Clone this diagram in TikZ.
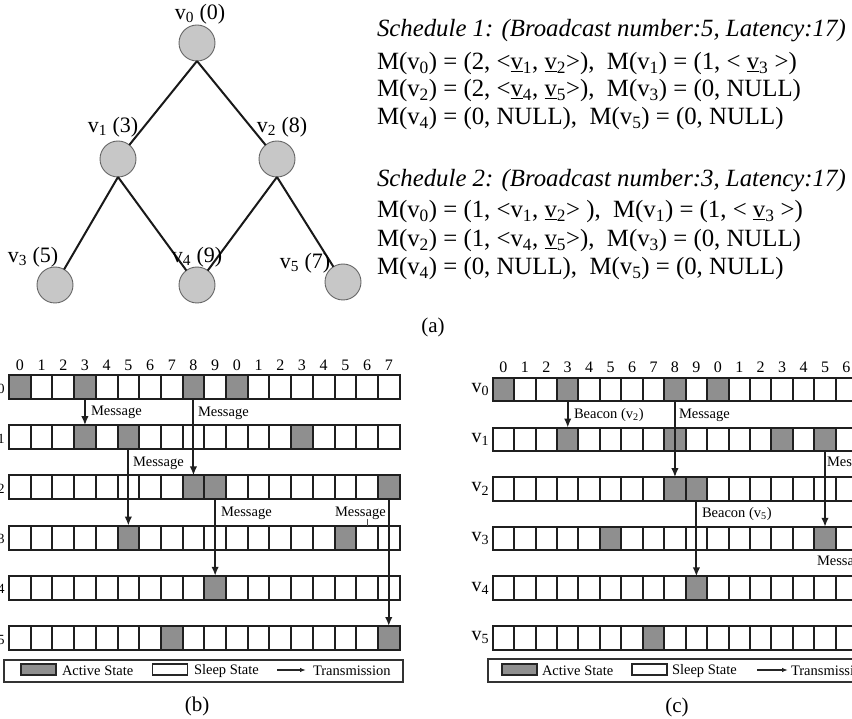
\documentclass[tikz,border=0pt]{standalone}
\usepackage{fontspec}
\setmainfont{Liberation Serif}
\usetikzlibrary{arrows.meta}
\newcommand{\vv}[1]{v\textsubscript{#1}}
\newcommand{\uv}[1]{\underline{v}\textsubscript{#1}}
\begin{document}
\begin{tikzpicture}[x=1pt,y=-1pt,
  every node/.style={inner sep=0pt,outer sep=0pt},
  tnode/.style={circle,minimum size=36pt,fill=black!22,draw=black!60,line width=0.9pt},
  edge/.style={line width=2pt,draw=black!90},
  tlbl/.style={font=\fontsize{22}{24}\selectfont},
  sched/.style={anchor=base west,font=\fontsize{24.8}{28}\selectfont},
  bcell/.style={draw=black!88,line width=2pt,minimum width=21.7pt,minimum height=24pt},
  ccell/.style={draw=black!88,line width=2pt,minimum width=21.44pt,minimum height=23.5pt},
  act/.style={fill=black!44},
  numlbl/.style={font=\fontsize{16}{17}\selectfont},
  rowlbl/.style={font=\fontsize{20}{22}\selectfont},
  msg/.style={anchor=west,font=\fontsize{14.5}{16}\selectfont},
  leg/.style={anchor=west,font=\fontsize{14.5}{16}\selectfont},
  legbox/.style={draw=black!80,line width=1.2pt},
  legsw/.style={draw=black!85,line width=1.2pt,minimum width=35pt,minimum height=11pt},
  arr/.style={-{Latex[length=9pt,width=7.5pt]},line width=2pt,draw=black!88},
  legarr/.style={-{Latex[length=6pt,width=4.5pt]},line width=1.2pt,draw=black!85},
  captxt/.style={font=\fontsize{21}{23}\selectfont}]
\useasboundingbox (0,0) rectangle (852,719);
\clip (0,0) rectangle (852,719);

% ---------- tree ----------
\node[tnode] (t0) at (197,43) {};
\node[tnode] (t1) at (118,159) {};
\node[tnode] (t2) at (277,159) {};
\node[tnode] (t3) at (55,285) {};
\node[tnode] (t4) at (197,285) {};
\node[tnode] (t5) at (343,282) {};
\draw[edge] (t0.south) -- (t1);
\draw[edge] (t0.south) -- (t2);
\draw[edge] (t1.south) -- (t3);
\draw[edge] (t1.south) -- (t4);
\draw[edge] (t2.south) -- (t4);
\draw[edge] (t2.south) -- (t5);
\node[tlbl] (l0) at (200,14) {\vv0 (0)};
\node[tlbl] (l1) at (113,127) {\vv1 (3)};
\node[tlbl] (l2) at (282,127) {\vv2 (8)};
\node[tlbl] (l3) at (33,257) {\vv3 (5)};
\node[tlbl] (l4) at (197,257) {\vv4 (9)};
\node[tlbl] (l5) at (305,263) {\vv5 (7)};

% ---------- schedules ----------
\node[sched] (s1) at (377,37) {\itshape Schedule 1: (Broadcast number:5, Latency:17)};
\node[sched] (s2) at (377,70) {M(\vv0) = (2, <\uv1, \uv2>),\ \ M(\vv1) = (1, < \uv3 >)};
\node[sched] (s3) at (377,97) {M(\vv2) = (2, <\uv4, \uv5>),\ \ M(\vv3) = (0, NULL)};
\node[sched] (s4) at (377,125) {M(\vv4) = (0, NULL),\ \ M(\vv5) = (0, NULL)};
\node[sched] (s5) at (377,187) {\itshape Schedule 2: (Broadcast number:3, Latency:17)};
\node[sched] (s6) at (377,218) {M(\vv0) = (1, <\vv1, \uv2> ),\ \ M(\vv1) = (1, < \uv3 >)};
\node[sched] (s7) at (377,247) {M(\vv2) = (1, <\vv4, \uv5>),\ \ M(\vv3) = (0, NULL)};
\node[sched] (s8) at (377,275) {M(\vv4) = (0, NULL),\ \ M(\vv5) = (0, NULL)};
\node[captxt] (capa) at (433,327) {(a)};

% ---------- slot numbers ----------
\foreach \i in {0,...,17}{
  \pgfmathtruncatemacro\n{mod(\i,10)}
  \node[numlbl] (bn\i) at ({9+(\i+0.5)*21.7},365) {\n};
  \node[numlbl] (cn\i) at ({492.7+(\i+0.5)*21.44},367) {\n};
}

% ---------- panel (b) rows ----------
\foreach \r/\acts in {0/{0,3,8,10},1/{3,5,13},2/{8,9,17},3/{5,15},4/{9},5/{7,17}}{
  \pgfmathsetmacro\rtop{375+50.2*\r}
  \foreach \a in \acts {\fill[act] ({9+\a*21.7},\rtop) rectangle ++(21.7,24);}
  \foreach \i in {0,...,17}{\node[bcell] (b-\r-\i) at ({9+(\i+0.5)*21.7},{\rtop+12}) {};}
  \node[rowlbl,anchor=east] (bl\r) at (5,{\rtop+12}) {\vv{\r}};
}

% ---------- panel (c) rows ----------
\foreach \r/\acts in {0/{0,3,8,10},1/{3,8,13,15},2/{8,9,17},3/{5,15},4/{9},5/{7}}{
  \pgfmathsetmacro\rtop{378+49.6*\r}
  \foreach \a in \acts {\fill[act] ({492.7+\a*21.44},\rtop) rectangle ++(21.44,23.5);}
  \foreach \i in {0,...,17}{\node[ccell] (c-\r-\i) at ({492.7+(\i+0.5)*21.44},{\rtop+11.75}) {};}
  \node[rowlbl,anchor=east] (cl\r) at (489,{\rtop+11.75}) {\vv{\r}};
}

% ---------- panel (b) transmissions ----------
\draw[arr] (b-0-3.south) -- (b-1-3.north);
\draw[arr] (b-0-8.south) -- (b-2-8.north);
\draw[arr] (b-1-5.south) -- (b-3-5.north);
\draw[arr] (b-2-9.south) -- (b-4-9.north);
\draw[arr] (b-2-17.south) -- (b-5-17.north);
\node[msg] (bm1) at (91,412) {Message};
\node[msg] (bm2) at (198,413) {Message};
\node[msg] (bm3) at (133,463) {Message};
\node[msg] (bm4) at (221,513) {Message};
\node[msg] (bm5) at (335,513) {Message};
\coordinate (bm5t) at (367,519);
\draw[line width=0.6pt,black!70] (bm5t) -- (bm5t |- b-3-16.north);

% ---------- panel (c) transmissions ----------
\draw[arr] (c-0-3.south) -- (c-1-3.north);
\draw[arr] (c-0-8.south) -- (c-2-8.north);
\draw[arr] (c-2-9.south) -- (c-4-9.north);
\draw[arr] (c-1-15.south) -- (c-3-15.north);
\node[msg] (cm1) at (574,415) {Beacon (\vv2)};
\node[msg] (cm2) at (679,415) {Message};
\node[msg] (cm3) at (702,514) {Beacon (\vv5)};
\node[msg] (cm4) at (827,463) {Message};
\node[msg] (cm5) at (817,562) {Message};

% ---------- legends ----------
\draw[legbox] (4,660) rectangle (403,682);
\node[legsw,fill=black!44] (ba) at (38.5,669.5) {};
\node[leg] (bat) at (62,671) {Active State};
\node[legsw] (bs) at (170,669.5) {};
\node[leg] (bst) at (194,671) {Sleep State};
\coordinate (bta) at (277,670);
\coordinate (btb) at (306,670);
\draw[legarr] (bta) -- (btb);
\node[leg] (btt) at (313,671) {Transmission};

\draw[legbox] (488,659) rectangle (880,682);
\node[legsw,fill=black!44] (ca) at (519.5,669.5) {};
\node[leg] (cat) at (542,671) {Active State};
\node[legsw] (cs) at (649.5,669.5) {};
\node[leg] (cst) at (672,671) {Sleep State};
\coordinate (cta) at (757,670);
\coordinate (ctb) at (788,670);
\draw[legarr] (cta) -- (ctb);
\node[leg] (ctt) at (791,671) {Transmission};

\node[captxt] (capb) at (197,706) {(b)};
\node[captxt] (capc) at (677,707) {(c)};
\end{tikzpicture}
\end{document}
